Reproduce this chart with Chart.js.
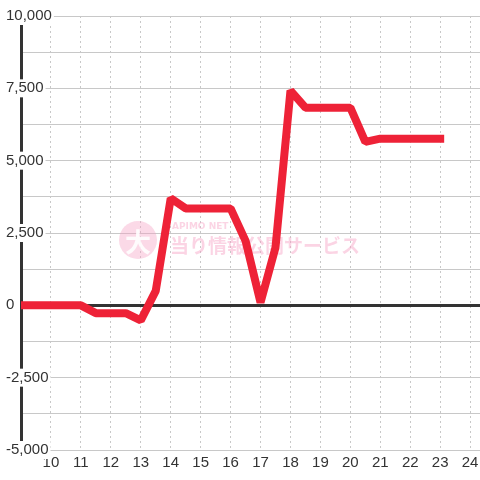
<!DOCTYPE html>
<html>
<head>
<meta charset="utf-8">
<script src="https://cdn.jsdelivr.net/npm/chart.js@4/dist/chart.umd.min.js"></script>
<style>
html, body { margin: 0; padding: 0; background: #fff; }
#wrap { width: 480px; height: 480px; }
</style>
</head>
<body>
<div id="wrap"><canvas id="grafico"></canvas></div>
<script>
// horario (eixo x) e saldo (eixo y)
var horas = [9, 9.5, 10, 10.5, 11, 11.5, 12, 12.5, 13, 13.5, 14, 14.5, 15, 15.5, 16, 16.5, 17, 17.5, 18, 18.5, 19, 19.5, 20, 20.5, 21, 21.5, 22, 22.5, 23];
var saldo = [0, 0, 0, 0, 0, -270, -270, -270, -520, 500, 3700, 3350, 3350, 3350, 3350, 2230, 100, 2000, 7420, 6830, 6830, 6830, 6830, 5650, 5760, 5760, 5760, 5760, 5760];

var ticksX = [10, 11, 12, 13, 14, 15, 16, 17, 18, 19, 20, 21, 22, 23, 24];
var ticksY = [-5000, -3750, -2500, -1250, 0, 1250, 2500, 3750, 5000, 6250, 7500, 8750, 10000];
var rotulosY = [-5000, -2500, 0, 2500, 5000, 7500, 10000];

var pontos = horas.map(function(h, i) { return { x: h, y: saldo[i] }; });

function temRotulo(v) { return rotulosY.indexOf(v) >= 0; }

// marca d'agua do site
var marcaDagua = {
    id: 'marcaDagua',
    beforeDatasetsDraw: function(chart) {
        var ctx = chart.ctx;
        ctx.save();
        ctx.fillStyle = 'rgba(246, 160, 196, 0.4)';
        ctx.beginPath();
        ctx.arc(138, 240, 19, 0, Math.PI * 2);
        ctx.fill();
        ctx.fillStyle = 'rgba(255, 255, 255, 0.9)';
        ctx.font = 'bold 26px "Noto Sans CJK JP"';
        ctx.textAlign = 'center';
        ctx.textBaseline = 'middle';
        ctx.fillText('大', 138, 242);
        ctx.fillStyle = 'rgba(246, 160, 196, 0.45)';
        ctx.textAlign = 'left';
        ctx.font = 'bold 9px "DejaVu Sans"';
        ctx.fillText('APIMO NET', 172, 227);
        ctx.font = 'bold 19px "Noto Sans CJK JP"';
        ctx.fillText('当り情報公開サービス', 170, 246);
        ctx.restore();
    }
};

var ctx = document.getElementById('grafico').getContext('2d');
window.meuGrafico = new Chart(ctx, {
    type: 'line',
    data: {
        datasets: [{
            data: pontos,
            borderColor: '#ee2237',
            borderWidth: 8,
            borderJoinStyle: 'bevel',
            borderCapStyle: 'square',
            pointRadius: 0,
            tension: 0,
            fill: false
        }]
    },
    options: {
        responsive: true,
        maintainAspectRatio: false,
        animation: false,
        layout: { padding: { left: 6, right: 0, top: 16, bottom: 4 } },
        plugins: {
            legend: { display: false },
            tooltip: { enabled: false }
        },
        scales: {
            x: {
                type: 'linear',
                min: 9,
                max: 24.33,
                afterBuildTicks: function(s) {
                    s.ticks = ticksX.map(function(v) { return { value: v }; });
                },
                afterFit: function(s) { s.paddingLeft = 0; s.paddingRight = 0; },
                grid: { color: '#c8c8c8', lineWidth: 1, drawTicks: false },
                border: { display: false, dash: [2, 3] },
                ticks: {
                    padding: 4,
                    color: '#333',
                    font: { family: '"Liberation Sans", Arial', size: 15 },
                    maxRotation: 0,
                    callback: function(v) { return String(v); }
                }
            },
            y: {
                min: -5000,
                max: 10000,
                afterBuildTicks: function(s) {
                    s.ticks = ticksY.map(function(v) { return { value: v }; });
                },
                afterFit: function(s) { s.width = 15; s.paddingTop = 0; s.paddingBottom = 0; },
                grid: {
                    drawTicks: false,
                    color: function(c) { return c.tick && c.tick.value === 0 ? '#333' : '#c8c8c8'; },
                    lineWidth: function(c) { return c.tick && c.tick.value === 0 ? 3 : 1; }
                },
                border: { display: true, color: '#333', width: 3 },
                ticks: {
                    mirror: true,
                    padding: -15,
                    color: '#333',
                    font: { family: '"Liberation Sans", Arial', size: 15 },
                    showLabelBackdrop: function(c) { return temRotulo(c.tick.value); },
                    backdropColor: '#fff',
                    backdropPadding: { top: 0, bottom: 0, left: 1, right: 2 },
                    callback: function(v) { return temRotulo(v) ? v.toLocaleString('en-US') : ''; }
                }
            }
        }
    },
    plugins: [marcaDagua]
});
</script>
</body>
</html>
